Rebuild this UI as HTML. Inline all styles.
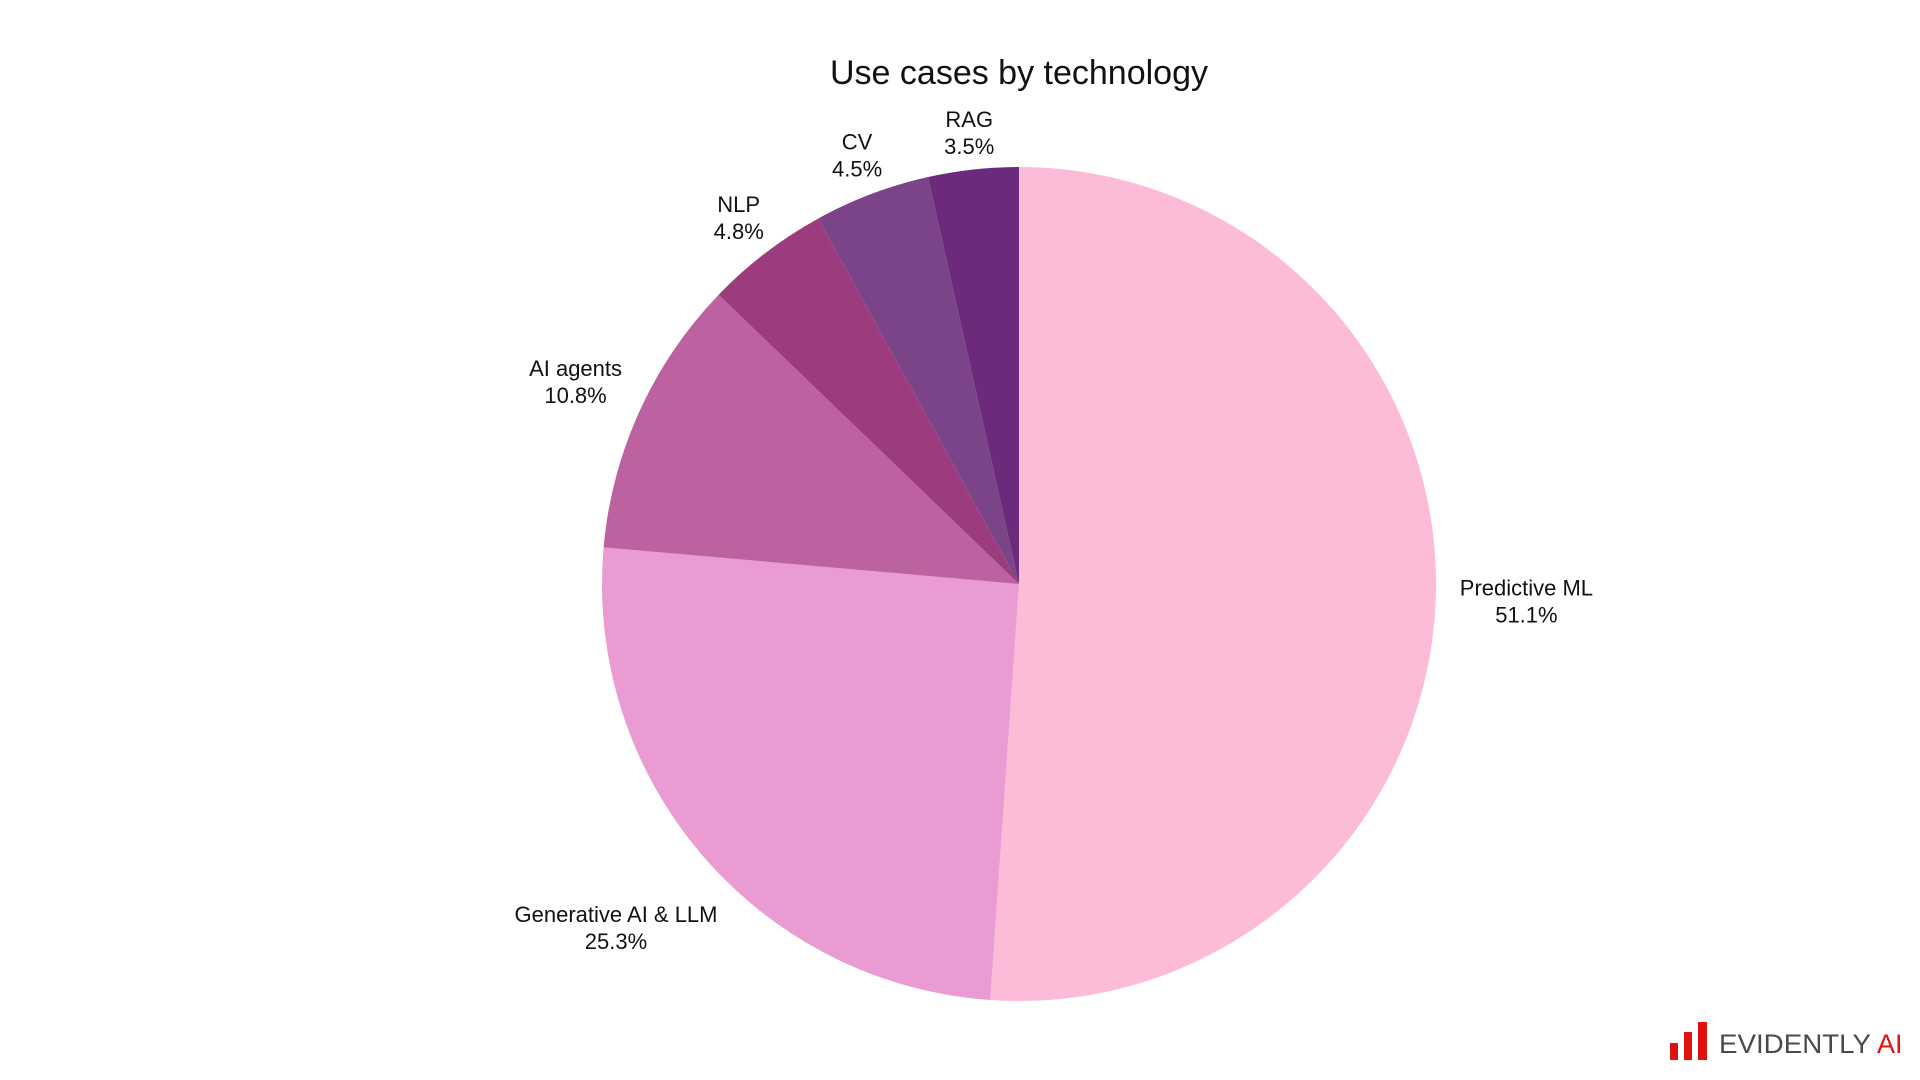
<!DOCTYPE html>
<html><head><meta charset="utf-8"><style>
html,body{margin:0;padding:0;background:#fff;width:1920px;height:1080px;overflow:hidden}
svg{display:block;font-family:"Liberation Sans",sans-serif}
</style></head><body>
<svg id="chart" width="1920" height="1080" viewBox="0 0 1920 1080">
<text x="1019" y="84" text-anchor="middle" font-size="34" fill="#111">Use cases by technology</text>
<g id="slices"></g>
<g id="labels"></g>
<g>
<rect x="1670" y="1043" width="8" height="17" fill="#e0120f"/>
<rect x="1684" y="1032" width="8" height="28" fill="#e0120f"/>
<rect x="1698" y="1022" width="9" height="38" fill="#e0120f"/>
<text x="1719" y="1053" font-size="27" fill="#4a4a4a" textLength="152" lengthAdjust="spacingAndGlyphs">EVIDENTLY</text>
<text x="1877" y="1053" font-size="27" fill="#e0120f">AI</text>
</g>
</svg>
<script>
const categories = ["Predictive ML","Generative AI & LLM","AI agents","NLP","CV","RAG"];
const values = [51.1,25.3,10.8,4.8,4.5,3.5];
const valueLabels = ["51.1%","25.3%","10.8%","4.8%","4.5%","3.5%"];
const colors = ["#fcbcd7","#e99bd2","#bd62a0","#9c3c7e","#7b4388","#6b2a7a"];
const NS="http://www.w3.org/2000/svg";
const cx=1019, cy=584, r=417;
const total=values.reduce((a,b)=>a+b,0);
const sg=document.getElementById('slices'), lg=document.getElementById('labels');
function pt(a,rad){return [cx+rad*Math.sin(a), cy-rad*Math.cos(a)];}
let acc=0;
values.forEach((v,i)=>{
  const a0=acc/total*2*Math.PI; acc+=v; const a1=acc/total*2*Math.PI;
  const p0=pt(a0,r), p1=pt(a1,r);
  const large=(a1-a0)>Math.PI?1:0;
  const path=document.createElementNS(NS,'path');
  path.setAttribute('d',`M${cx},${cy} L${p0[0]},${p0[1]} A${r},${r} 0 ${large} 1 ${p1[0]},${p1[1]} Z`);
  path.setAttribute('fill',colors[i]);
  
  
  sg.appendChild(path);
  const am=(a0+a1)/2, ux=Math.sin(am), uy=-Math.cos(am);
  const w=Math.max(categories[i].length, valueLabels[i].length)*12;
  const pad=12+Math.abs(ux)*w/2+Math.abs(uy)*22;
  const [x,y]=pt(am,r+pad);
  const t=document.createElementNS(NS,'text');
  
  
  t.setAttribute('text-anchor','middle');t.setAttribute('font-size','22');t.setAttribute('fill','#111');
  const s1=document.createElementNS(NS,'tspan');s1.setAttribute('x',x);s1.setAttribute('y',y-6);s1.textContent=categories[i];
  const s2=document.createElementNS(NS,'tspan');s2.setAttribute('x',x);s2.setAttribute('y',y+21);s2.textContent=valueLabels[i];
  t.appendChild(s1);t.appendChild(s2);lg.appendChild(t);
});
</script>
</body></html>
